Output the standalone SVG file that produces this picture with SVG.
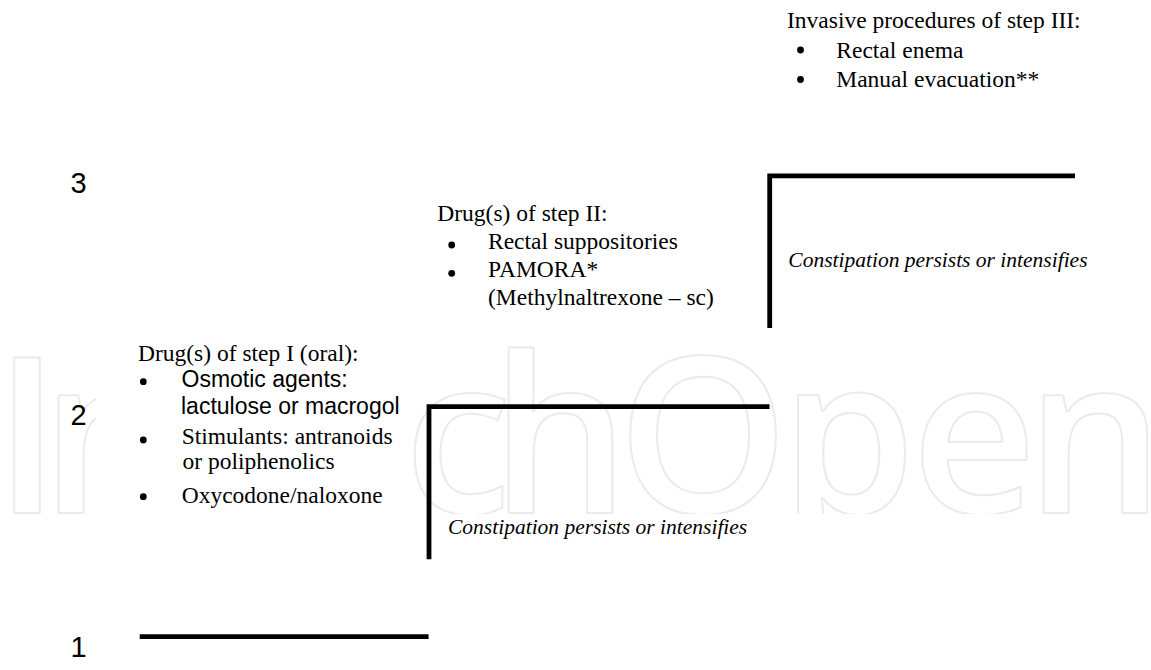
<svg xmlns="http://www.w3.org/2000/svg" width="1151" height="670" viewBox="0 0 1151 670">
<style>
.t{font-family:"Liberation Serif","Times New Roman",serif;font-size:23.5px;fill:#000}
.a{font-family:"Liberation Sans",Arial,sans-serif;font-size:23px;fill:#000}
.i{font-family:"Liberation Serif","Times New Roman",serif;font-style:italic;font-size:21.5px;fill:#000}
.num{font-family:"Liberation Sans",Arial,sans-serif;font-size:29px;fill:#000}
.bul{fill:#000}
.step{fill:none;stroke:#000;stroke-width:4.8;stroke-linejoin:miter;stroke-linecap:butt}
.wm{font-family:"Open Sans","DejaVu Sans",sans-serif;font-weight:600;font-size:218px;fill:#fff;stroke:#ebebeb;stroke-width:2;stroke-linejoin:round;text-anchor:middle}
</style>
<defs>
<clipPath id="wmclip"><rect x="0" y="330" width="1151" height="184"/></clipPath>
</defs>
<rect width="1151" height="670" fill="#fff"/>
<g id="watermark" clip-path="url(#wmclip)">
<text class="wm" x="27 110" y="513">In</text>
<text class="wm" x="458 560 703 848 974 1095" y="513">chOpen</text>
</g>
<rect x="96" y="340" width="318" height="176" fill="#fff"/>
<g id="connectors">
<path class="step" d="M139.7 636.7 H428.6"/>
<path class="step" d="M429 559.3 V406.7 H769.5"/>
<path class="step" d="M769.7 328 V175.8 H1075"/>
</g>
<g id="level-numbers">
<text class="num" x="70.5" y="193.3">3</text>
<text class="num" x="70.5" y="425">2</text>
<text class="num" x="70.5" y="657">1</text>
</g>
<g id="step1">
<text class="t" x="138" y="361">Drug(s) of step I (oral):</text>
<circle class="bul" cx="143.3" cy="381.7" r="3.4"/>
<text class="a" x="181.5" y="386.7">Osmotic agents:</text>
<text class="a" x="181" y="414">lactulose or macrogol</text>
<circle class="bul" cx="143.3" cy="440" r="3.4"/>
<text class="t" x="181.7" y="444.3">Stimulants: antranoids</text>
<text class="t" x="182.5" y="469">or poliphenolics</text>
<circle class="bul" cx="143.3" cy="496.7" r="3.4"/>
<text class="t" x="181.7" y="502.7">Oxycodone/naloxone</text>
</g>
<g id="step2">
<text class="t" x="437.3" y="220.5">Drug(s) of step II:</text>
<circle class="bul" cx="451.7" cy="245" r="3.4"/>
<text class="t" x="488" y="248.5">Rectal suppositories</text>
<circle class="bul" cx="451.7" cy="273.3" r="3.4"/>
<text class="t" x="488" y="276.7">PAMORA*</text>
<text class="t" x="488" y="305">(Methylnaltrexone – sc)</text>
<text class="i" x="448" y="533.5">Constipation persists or intensifies</text>
</g>
<g id="step3">
<text class="t" x="787" y="28.3">Invasive procedures of step III:</text>
<circle class="bul" cx="800.5" cy="50" r="3.4"/>
<text class="t" x="836.3" y="58.3">Rectal enema</text>
<circle class="bul" cx="800.5" cy="79.5" r="3.4"/>
<text class="t" x="836.3" y="87.3">Manual evacuation**</text>
<text class="i" x="788.3" y="267.3">Constipation persists or intensifies</text>
</g>
</svg>
